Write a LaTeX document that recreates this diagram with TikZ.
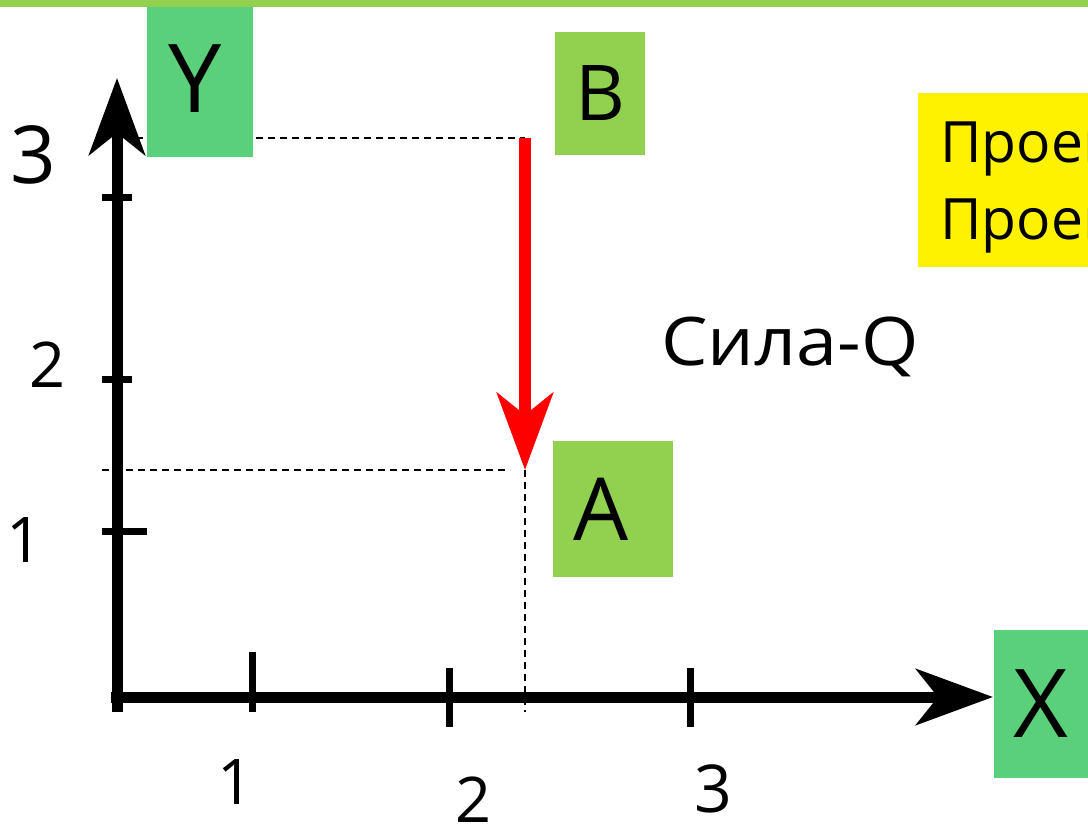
\documentclass[tikz,border=0pt]{standalone}
\usepackage{fontspec}
\setmainfont{Open Sans}
\usetikzlibrary{arrows.meta}
\definecolor{lgreen}{HTML}{92D050}
\definecolor{mgreen}{HTML}{5BD07A}
\begin{document}
\begin{tikzpicture}[x=1pt, y=-1pt,
    box/.style={rectangle, fill=#1, inner sep=0pt},
    num/.style={inner sep=0pt, font=\fontsize{#1}{#1}\selectfont},
    axisarr/.style={line width=11pt, -{Stealth[length=77pt, width=56pt, inset=22pt]}},
    tickmark/.style={line width=7pt},
    guide/.style={line width=1.5pt, dash pattern=on 7pt off 5pt}
]
\useasboundingbox (0,0) rectangle (1088,826);
\clip (0,0) rectangle (1088,826);

\coordinate (yb) at (117,712);
\coordinate (ytip) at (117,78);
\coordinate (xb) at (111,697);
\coordinate (xtip) at (993,697);
\coordinate (Bpt) at (525,138);
\coordinate (Apt) at (525,470);
\coordinate (yB) at (124,138);
\coordinate (yA) at (102,470);
\coordinate (xA) at (525,712);

\draw[guide] (yB) -- (Bpt);
\draw[guide] (yA) -- ([xshift=-15pt]Apt);
\draw[guide] (Apt) -- (xA);

\draw[axisarr] (yb) -- (ytip);
\draw[axisarr] (xb) -- (xtip);
\foreach \y/\r in {198/132, 380/132, 531/147}
  \draw[tickmark] (102,\y) -- (\r,\y);
\foreach \x/\t/\b in {252/652/712, 449/668/727, 690/668/727}
  \draw[tickmark] (\x,\t) -- (\x,\b);

\draw[axisarr, line width=12pt, red] (Bpt) -- (Apt);

\node[num=80] (y3) at (33,155) {3};
\node[num=63] (y2) at (48,365) {2};
\node[num=63] (y1) at (25,540) {1};
\node[num=63] (x1) at (236,782) {1};
\node[num=63] (x2) at (474,800) {2};
\node[num=66] (x3) at (713,789) {3};

\node[box=mgreen, minimum width=106pt, minimum height=157pt, font=\fontsize{95}{95}\selectfont] (Y) at (200,78.5) {\hspace*{-10pt}Y};
\node[box=mgreen, minimum width=94pt, minimum height=148pt, font=\fontsize{95}{95}\selectfont] (X) at (1041,704) {X};
\node[box=lgreen, minimum width=90pt, minimum height=123pt, font=\fontsize{77}{77}\selectfont] (B) at (600,93.5) {B};
\node[box=lgreen, minimum width=120pt, minimum height=136pt, font=\fontsize{87}{87}\selectfont] (A) at (613,509) {\hspace*{-24pt}A};

\node[anchor=base west, num=67] (force) at (661,366) {\scalebox{1.1}[1]{Сила-Q}};

\node[box=yellow, minimum width=300pt, minimum height=174pt, anchor=north west] (proj) at (918,93) {};
\node[anchor=base west, num=57] (proj1) at (940,163) {Проекция};
\node[anchor=base west, num=57] (proj2) at (940,240) {Проекция};

\fill[lgreen] (0,0) rectangle (1088,7);
\end{tikzpicture}
\end{document}
